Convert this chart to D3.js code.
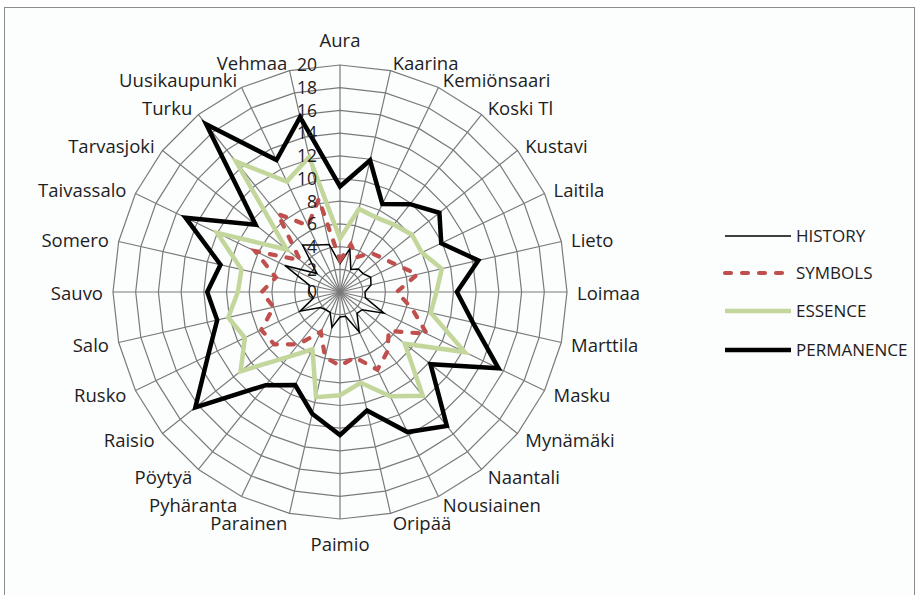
<!DOCTYPE html>
<html>
<head>
<meta charset="utf-8">
<script src="https://cdn.jsdelivr.net/npm/d3@7"></script>
<style>
  body { margin: 0; background: #fff; }
  svg text { font-family: "Open Sans", sans-serif; fill: #1e1e1e; }
</style>
</head>
<body>
<div id="chart"></div>
<script>
// municipalities, clockwise from the top
const categories = ["Aura", "Kaarina", "Kemiönsaari", "Koski Tl", "Kustavi", "Laitila", "Lieto",
  "Loimaa", "Marttila", "Masku", "Mynämäki", "Naantali", "Nousiainen", "Oripää", "Paimio",
  "Parainen", "Pyhäranta", "Pöytyä", "Raisio", "Rusko", "Salo", "Sauvo", "Somero",
  "Taivassalo", "Tarvasjoki", "Turku", "Uusikaupunki", "Vehmaa"];

const history = [2.5, 3.9, 2.2, 2.6, 2.6, 3.0, 2.8, 2.2, 2.3, 4.3, 2.5, 2.4, 3.9, 2.2,
  2.2, 3.2, 2.0, 2.0, 2.2, 3.9, 2.4, 2.7, 2.8, 5.4, 2.6, 5.3, 4.6, 4.3];
const symbols = [2.8, 4.3, 3.4, 4.4, 4.8, 5.5, 7.0, 5.0, 6.5, 8.5, 5.5, 6.7, 7.6, 5.9,
  6.5, 5.9, 3.9, 5.9, 7.4, 7.7, 6.0, 6.9, 5.8, 8.3, 4.5, 8.8, 6.5, 8.4];
const essence = [4.7, 7.5, 7.3, 7.6, 8.1, 8.0, 9.2, 8.5, 8.2, 12.2, 7.3, 11.7, 10.2, 8.2,
  9.1, 9.5, 5.6, 7.3, 11.2, 9.3, 10.1, 9.0, 8.9, 12.0, 6.0, 14.7, 10.8, 12.2];
const permanence = [9.3, 11.9, 8.6, 9.9, 11.2, 9.9, 12.5, 10.3, 12.0, 15.5, 10.2, 15.1, 13.7, 10.7,
  12.6, 11.0, 9.1, 10.5, 16.3, 12.9, 11.1, 11.7, 10.8, 15.1, 9.5, 18.9, 12.9, 15.8];

const seriesNames = ["HISTORY", "SYMBOLS", "ESSENCE", "PERMANENCE"];
const ticks = [0, 2, 4, 6, 8, 10, 12, 14, 16, 18, 20];

const width = 921, height = 595;
const cx = 340, cy = 292, radius = 227;

const svg = d3.select("#chart").append("svg")
    .attr("width", width)
    .attr("height", height);

svg.append("rect")
    .attr("width", width).attr("height", height)
    .attr("fill", "#ffffff");

// outer frame of the chart area
svg.append("rect")
    .attr("x", 4.5).attr("y", 7.5)
    .attr("width", 910).attr("height", 620)
    .attr("fill", "#fcfdfd")
    .attr("stroke", "#8c8c8c");

const chart = svg.append("g").attr("transform", `translate(${cx},${cy})`);

const r = d3.scaleLinear().domain([0, 20]).range([0, radius]);
const angle = d3.scaleLinear().domain([0, categories.length]).range([0, 2 * Math.PI]);

const px = (i, v) => r(v) * Math.sin(angle(i));
const py = (i, v) => -r(v) * Math.cos(angle(i));

// rings
chart.selectAll(".ring")
  .data(ticks.slice(1))
  .join("polygon")
    .attr("class", "ring")
    .attr("points", t => categories.map((c, i) => `${px(i, t)},${py(i, t)}`).join(" "))
    .attr("fill", "none")
    .attr("stroke", "#7a7a7a")
    .attr("stroke-width", 1.2);

// spokes
chart.selectAll(".spoke")
  .data(categories)
  .join("line")
    .attr("class", "spoke")
    .attr("x1", 0).attr("y1", 0)
    .attr("x2", (c, i) => px(i, 20))
    .attr("y2", (c, i) => py(i, 20))
    .attr("stroke", "#7a7a7a")
    .attr("stroke-width", 1.2);

// series
const radial = d3.lineRadial()
    .angle((d, i) => angle(i))
    .radius(d => r(d))
    .curve(d3.curveLinearClosed);

const styles = [
  {data: history, color: "#000000", width: 1.5, dash: null},
  {data: symbols, color: "#c0504d", width: 4.2, dash: "6,11"},
  {data: essence, color: "#c3d69b", width: 4.5, dash: null},
  {data: permanence, color: "#000000", width: 4.5, dash: null}
];

chart.selectAll(".series")
  .data(styles)
  .join("path")
    .attr("class", "series")
    .attr("d", s => radial(s.data))
    .attr("fill", "none")
    .attr("stroke", s => s.color)
    .attr("stroke-width", s => s.width)
    .attr("stroke-dasharray", s => s.dash)
    .attr("stroke-linecap", s => s.dash ? "round" : "butt")
    .attr("stroke-linejoin", "miter");

// value axis labels
chart.selectAll(".tick")
  .data(ticks)
  .join("text")
    .attr("class", "tick")
    .attr("x", -23)
    .attr("y", t => -r(t))
    .attr("dy", "0.36em")
    .attr("text-anchor", "end")
    .style("font-size", "17.5px")
    .text(t => t);

// category labels
chart.selectAll(".cat")
  .data(categories)
  .join("text")
    .attr("class", "cat")
    .attr("x", (c, i) => {
      const s = Math.sin(angle(i));
      return px(i, 20) + 10 * s;
    })
    .attr("y", (c, i) => {
      const s = Math.sin(angle(i)), co = Math.cos(angle(i));
      if (Math.abs(s) < 0.01) return py(i, 20) - 25 * co;
      return py(i, 20) - 9 * co + 1;
    })
    .attr("dy", "0.36em")
    .attr("text-anchor", (c, i) => {
      const s = Math.sin(angle(i));
      return Math.abs(s) < 0.01 ? "middle" : (s > 0 ? "start" : "end");
    })
    .style("font-size", "18.5px")
    .text(c => c);

// legend
const legend = svg.append("g").attr("transform", "translate(725,236)");
const rows = legend.selectAll(".legend-row")
  .data(styles)
  .join("g")
    .attr("class", "legend-row")
    .attr("transform", (s, i) => `translate(0,${[0, 37, 75, 114][i]})`);

rows.append("line")
    .attr("x1", 0).attr("x2", 66)
    .attr("stroke", s => s.color)
    .attr("stroke-width", s => s.width)
    .attr("stroke-dasharray", s => s.dash)
    .attr("stroke-linecap", s => s.dash ? "round" : "butt");

rows.append("text")
    .attr("x", 71)
    .attr("dy", "0.36em")
    .style("font-size", "17px")
    .text((s, i) => seriesNames[i]);
</script>
</body>
</html>
